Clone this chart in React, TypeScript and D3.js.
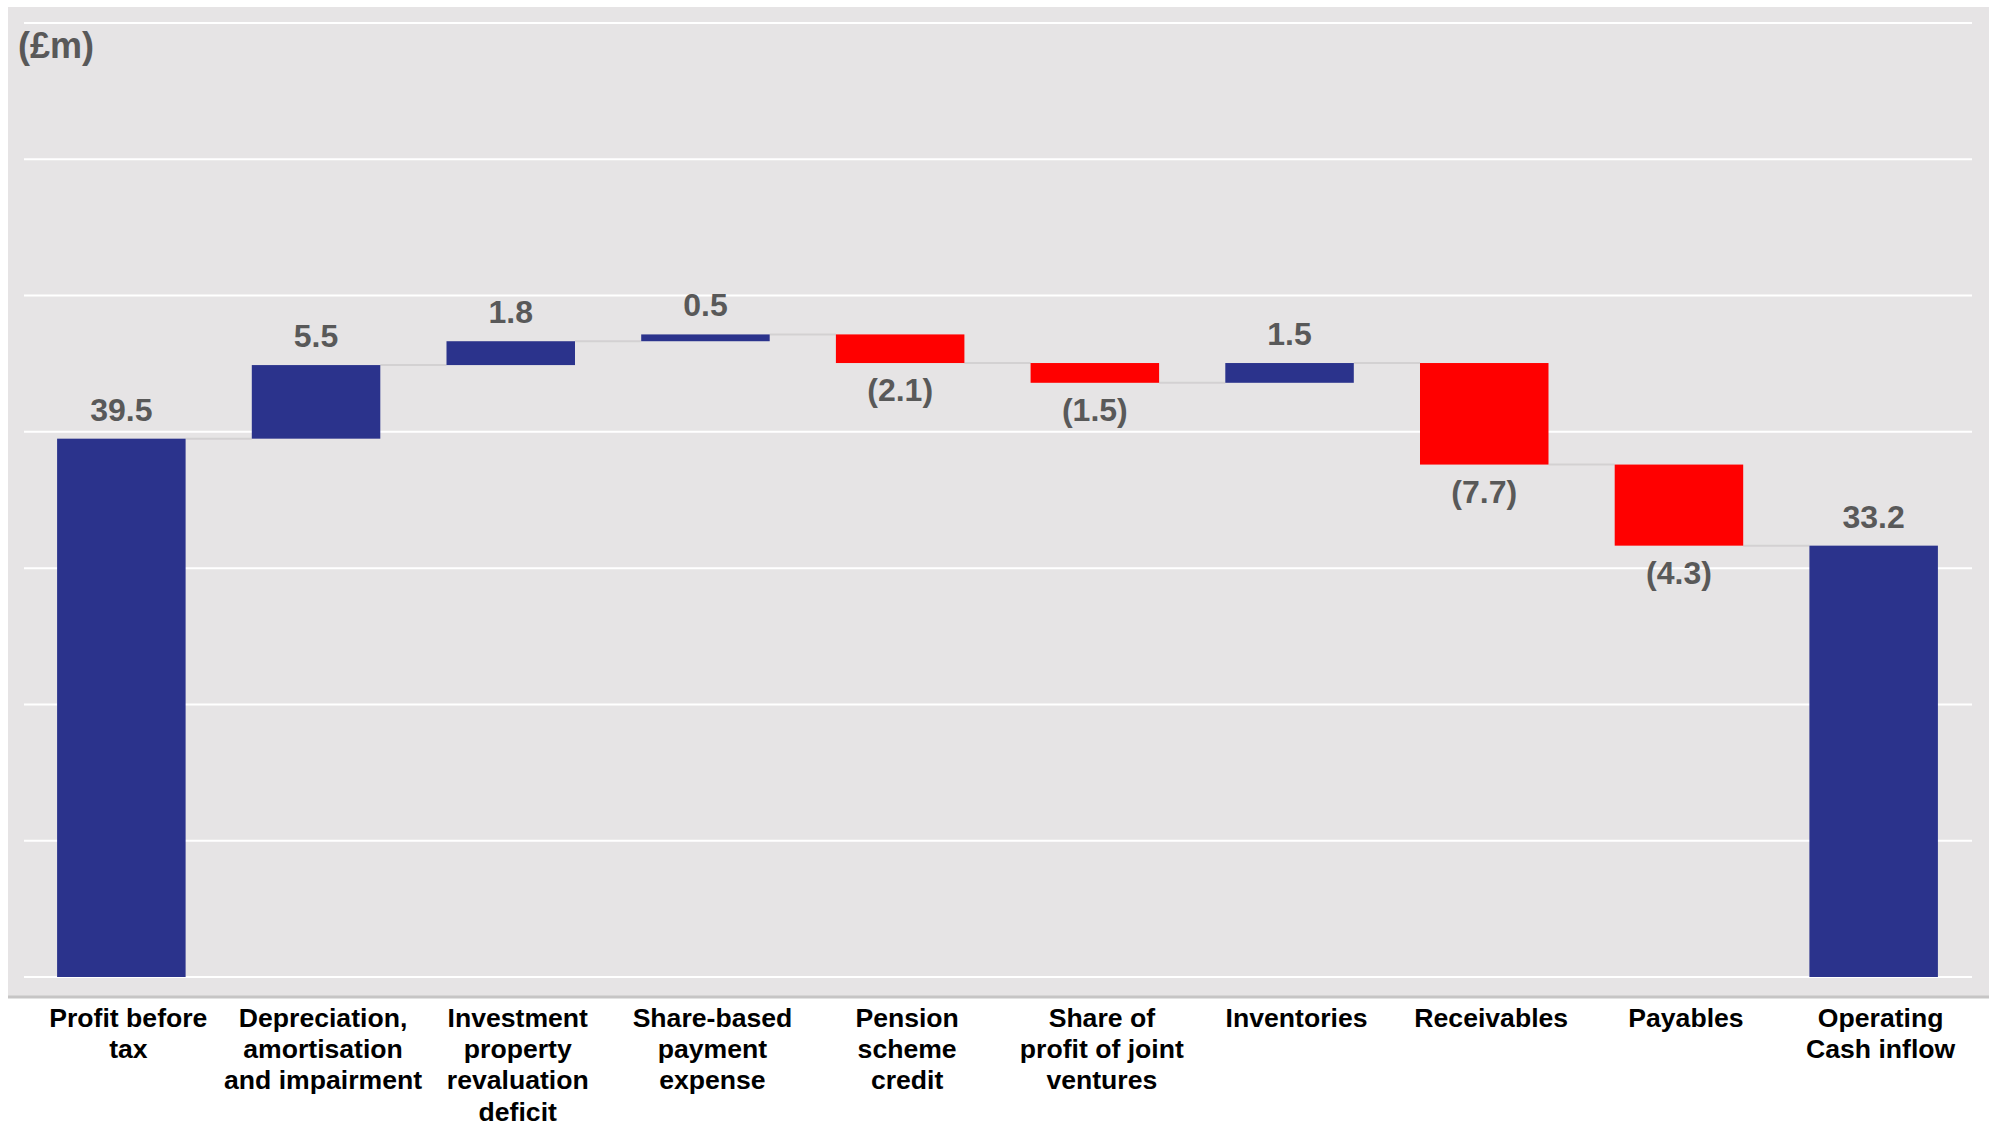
import React from 'react';
import * as d3 from 'd3';

const categories: string[][] = [
  ['Profit before', 'tax'],
  ['Depreciation,', 'amortisation', 'and impairment'],
  ['Investment', 'property', 'revaluation', 'deficit'],
  ['Share-based', 'payment', 'expense'],
  ['Pension', 'scheme', 'credit'],
  ['Share of', 'profit of joint', 'ventures'],
  ['Inventories'],
  ['Receivables'],
  ['Payables'],
  ['Operating', 'Cash inflow'],
];
const barKinds = ['total', 'delta', 'delta', 'delta', 'delta', 'delta', 'delta', 'delta', 'delta', 'total'];
// bar heights as drawn in the picture (£m)
const barDeltas = [39.5, 5.4, 1.75, 0.5, -2.1, -1.45, 1.45, -7.45, -5.95, 0];
const valueLabels = ['39.5', '5.5', '1.8', '0.5', '(2.1)', '(1.5)', '1.5', '(7.7)', '(4.3)', '33.2'];
const yTicks = [0, 10, 20, 30, 40, 50, 60, 70];
const unitLabel = '(£m)';

const W = 1989;
const H = 1127;
const BLUE = '#2b338c';
const RED = '#ff0000';

export default function App() {
  const names = categories.map((c) => c.join(' '));
  const x = d3.scaleBand<string>().domain(names).range([24, 1971]).paddingInner(0.34).paddingOuter(0.17);
  const y = d3.scaleLinear().domain([0, 70]).range([977, 23]);

  let cum = 0;
  const bars = barDeltas.map((d, i) => {
    let start: number, end: number;
    if (barKinds[i] === 'total') {
      if (i === 0) {
        cum = d;
      }
      start = 0;
      end = cum;
    } else {
      start = cum;
      cum = cum + d;
      end = cum;
    }
    return { i, name: names[i], start, end, level: cum, neg: end < start };
  });

  const font = '"Liberation Sans", Arial, Helvetica, sans-serif';

  return (
    <svg width={W} height={H} style={{ position: 'absolute', left: 0, top: 0, background: '#ffffff' }}>
      <rect x={8} y={7} width={W - 8} height={990} fill="#e6e4e5" />
      <line x1={8} x2={W} y1={997} y2={997} stroke="#c6c5c5" strokeWidth={3} />
      {yTicks.map((t) => (
        <line key={t} x1={24} x2={1972} y1={y(t)} y2={y(t)} stroke="#ffffff" strokeWidth={2} />
      ))}
      {bars.slice(0, -1).map((b) => {
        const nx = bars[b.i + 1];
        return (
          <line
            key={'c' + b.i}
            x1={(x(b.name) as number) + x.bandwidth()}
            x2={x(nx.name) as number}
            y1={y(b.level)}
            y2={y(b.level)}
            stroke="#d3d1d2"
            strokeWidth={2}
          />
        );
      })}
      {bars.map((b) => (
        <rect
          key={'b' + b.i}
          x={x(b.name)}
          width={x.bandwidth()}
          y={y(Math.max(b.start, b.end))}
          height={Math.abs(y(b.start) - y(b.end))}
          fill={b.neg ? RED : BLUE}
        />
      ))}
      {bars.map((b) => {
        const cx = (x(b.name) as number) + x.bandwidth() / 2;
        const ty = b.neg ? y(b.end) + 38 : y(b.end) - 18;
        return (
          <text
            key={'v' + b.i}
            x={cx}
            y={ty}
            textAnchor="middle"
            fontFamily={font}
            fontWeight="bold"
            fontSize={32}
            fill="#595959"
          >
            {valueLabels[b.i]}
          </text>
        );
      })}
      {categories.map((lines, i) => {
        const cx = (x(names[i]) as number) + x.bandwidth() / 2 + 7;
        return (
          <text key={'l' + i} textAnchor="middle" fontFamily={font} fontWeight="bold" fontSize={26.6} fill="#000000">
            {lines.map((ln, j) => (
              <tspan key={j} x={cx} y={1027 + j * 31.2}>
                {ln}
              </tspan>
            ))}
          </text>
        );
      })}
      <text x={18} y={58} fontFamily={font} fontWeight="bold" fontSize={36} fill="#595959">
        {unitLabel}
      </text>
    </svg>
  );
}
